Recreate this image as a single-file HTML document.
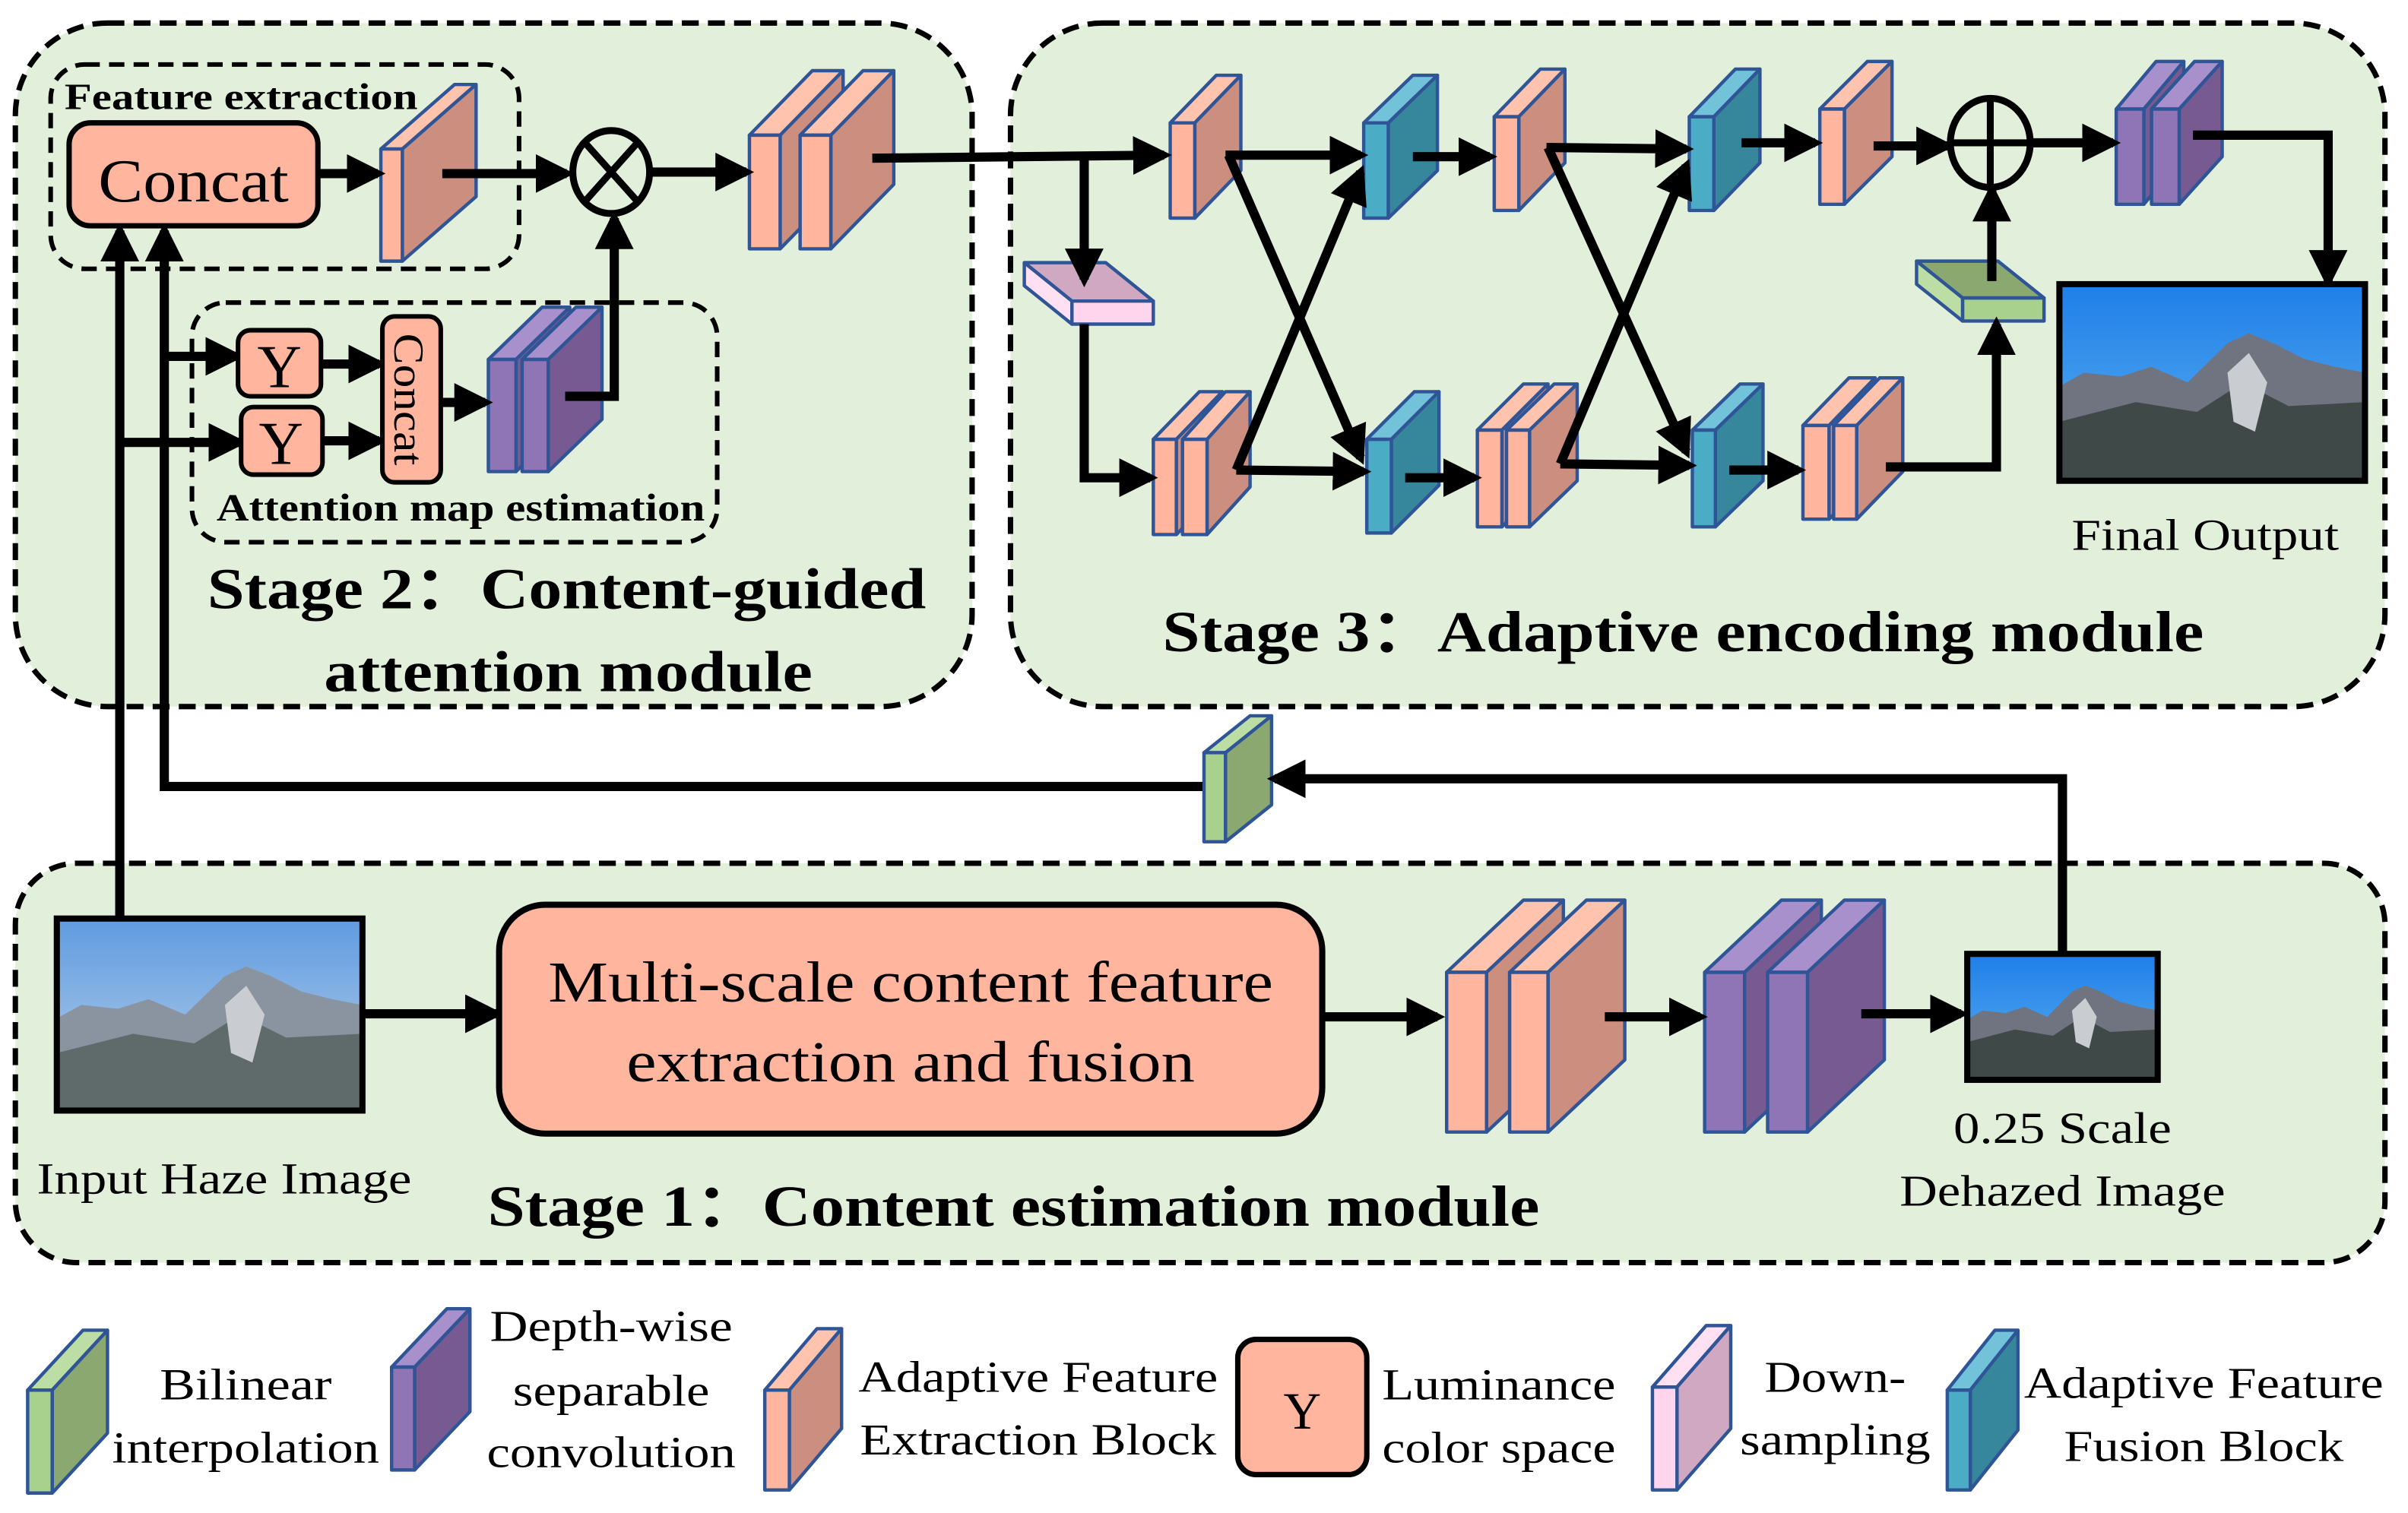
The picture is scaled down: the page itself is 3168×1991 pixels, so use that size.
<!DOCTYPE html>
<html><head><meta charset="utf-8">
<style>
html,body{margin:0;padding:0;background:#fff;}
svg{display:block;}
text{font-family:"Liberation Serif","Times New Roman",serif;fill:#000;}
.b{font-weight:bold;}
</style></head>
<body>
<svg id="s" xmlns="http://www.w3.org/2000/svg" width="3168" height="1991" viewBox="0 0 1568 985" preserveAspectRatio="none" font-family="'Liberation Serif', 'Times New Roman', serif">
<defs>
<marker id="ar" viewBox="0 0 10 10" refX="8" refY="5" markerWidth="4.2" markerHeight="4.2" orient="auto" markerUnits="strokeWidth">
<path d="M0,0 L10,5 L0,10 z" fill="#000"/></marker>
<linearGradient id="sky" x1="0" y1="0" x2="0" y2="1"><stop offset="0" stop-color="#5f9be0"/><stop offset="1" stop-color="#bcd3ea"/></linearGradient>
<linearGradient id="sky2" x1="0" y1="0" x2="0" y2="1"><stop offset="0" stop-color="#1f7fe8"/><stop offset="1" stop-color="#5cb0f0"/></linearGradient>
</defs>
<g fill="#E2EFDA" stroke="#000" stroke-width="3.5" stroke-dasharray="11,6">
<rect x="10" y="15" width="623" height="445" rx="60"/>
<rect x="658" y="15" width="895" height="445" rx="60"/>
<rect x="10" y="562" width="1543" height="260" rx="40"/>
</g>
<g fill="none" stroke="#000" stroke-width="3" stroke-dasharray="10,6">
<rect x="33" y="42" width="305" height="133" rx="22"/>
<rect x="125" y="197" width="342" height="156" rx="22"/>
</g>
<g id="blocks"></g>
<g stroke="#000" stroke-width="6" fill="none" marker-end="url(#ar)">
<line x1="207" y1="113" x2="246" y2="113"/>
<line x1="288" y1="113" x2="369" y2="113"/>
<line x1="425" y1="112" x2="486" y2="112"/>
<polyline points="78,598 78,150"/>
<polyline points="1343,620 1343,507 830,507"/>
<polyline points="783,512 107,512 107,150"/>
<polyline points="107,232 154,232"/>
<polyline points="78,288 156,288"/>
<line x1="209" y1="237" x2="247" y2="237"/>
<line x1="210" y1="287" x2="247" y2="287"/>
<line x1="287" y1="262" x2="316" y2="262"/>
<polyline points="368,258 400,258 400,142"/>
<polyline points="568,103 758,101"/>
<polyline points="706,102 706,182"/>
<polyline points="706,211 706,311 749,311"/>
<line x1="798" y1="101" x2="886" y2="101"/>
<line x1="920" y1="102" x2="970" y2="102"/>
<line x1="1007" y1="96" x2="1098" y2="97"/>
<line x1="1134" y1="93" x2="1182" y2="93"/>
<line x1="1220" y1="95" x2="1268" y2="95"/>
<line x1="1323" y1="93" x2="1376" y2="93"/>
<polyline points="1428,88 1516,88 1516,183"/>
<line x1="805" y1="306" x2="888" y2="307"/>
<line x1="915" y1="311" x2="960" y2="311"/>
<line x1="1016" y1="302" x2="1100" y2="303"/>
<line x1="1126" y1="306" x2="1171" y2="306"/>
<polyline points="1228,304 1300,304 1300,211"/>
<line x1="1297" y1="183" x2="1297" y2="124"/>
<line x1="800" y1="101" x2="886" y2="298"/>
<line x1="805" y1="306" x2="886" y2="112"/>
<line x1="1008" y1="96" x2="1098" y2="294"/>
<line x1="1016" y1="302" x2="1098" y2="108"/>
<line x1="236" y1="660" x2="323" y2="660"/>
<line x1="861" y1="662" x2="936" y2="662"/>
<line x1="1045" y1="662" x2="1107" y2="662"/>
<line x1="1212" y1="660" x2="1277" y2="660"/>
</g>
<rect x="45" y="80" width="162" height="67" rx="14" fill="#FFB59E" stroke="#000" stroke-width="3.5"/>
<text x="126" y="131" font-size="40" text-anchor="middle" textLength="124" lengthAdjust="spacingAndGlyphs">Concat</text>
<text x="157" y="71" font-size="24" class="b" text-anchor="middle" textLength="230" lengthAdjust="spacingAndGlyphs">Feature extraction</text>
<rect x="155" y="215" width="54" height="43" rx="8" fill="#FFB59E" stroke="#000" stroke-width="3"/>
<text x="182" y="252" font-size="40" text-anchor="middle">Y</text>
<rect x="157" y="265" width="53" height="44" rx="8" fill="#FFB59E" stroke="#000" stroke-width="3"/>
<text x="183" y="302" font-size="40" text-anchor="middle">Y</text>
<rect x="249" y="206" width="38" height="108" rx="8" fill="#FFB59E" stroke="#000" stroke-width="3"/>
<text transform="translate(257,260) rotate(90)" font-size="28" text-anchor="middle" textLength="86" lengthAdjust="spacingAndGlyphs">Concat</text>
<text x="300" y="339" font-size="25" class="b" text-anchor="middle" textLength="318" lengthAdjust="spacingAndGlyphs">Attention map estimation</text>
<ellipse cx="398" cy="112" rx="25" ry="27" fill="none" stroke="#000" stroke-width="4.5"/>
<path d="M381,93 L415,131 M415,93 L381,131" stroke="#000" stroke-width="4.5"/>
<ellipse cx="1296" cy="93" rx="26" ry="29" fill="none" stroke="#000" stroke-width="4.5"/>
<path d="M1270,93 L1322,93 M1296,64 L1296,122" stroke="#000" stroke-width="4.5"/>
<text x="369" y="396" font-size="38" class="b" text-anchor="middle" textLength="468" lengthAdjust="spacingAndGlyphs">Stage 2：Content-guided</text>
<text x="370" y="450" font-size="38" class="b" text-anchor="middle" textLength="318" lengthAdjust="spacingAndGlyphs">attention module</text>
<text x="1096" y="424" font-size="38" class="b" text-anchor="middle" textLength="678" lengthAdjust="spacingAndGlyphs">Stage 3：Adaptive encoding module</text>
<text x="660" y="798" font-size="38" class="b" text-anchor="middle" textLength="685" lengthAdjust="spacingAndGlyphs">Stage 1：Content estimation module</text>
<g id="imgs"></g>
<g font-size="29" text-anchor="middle" lengthAdjust="spacingAndGlyphs">
<text x="1436" y="358" textLength="174" lengthAdjust="spacingAndGlyphs">Final Output</text>
<text x="146" y="777" textLength="244" lengthAdjust="spacingAndGlyphs">Input Haze Image</text>
<text x="1343" y="744" textLength="142" lengthAdjust="spacingAndGlyphs">0.25 Scale</text>
<text x="1343" y="785" textLength="212" lengthAdjust="spacingAndGlyphs">Dehazed Image</text>
</g>
<rect x="325" y="589" width="536" height="149" rx="30" fill="#FFB59E" stroke="#000" stroke-width="4"/>
<text x="593" y="652" font-size="38" text-anchor="middle" textLength="472" lengthAdjust="spacingAndGlyphs">Multi-scale content feature</text>
<text x="593" y="704" font-size="38" text-anchor="middle" textLength="370" lengthAdjust="spacingAndGlyphs">extraction and fusion</text>
<rect x="806" y="872" width="84" height="88" rx="12" fill="#FFB59E" stroke="#000" stroke-width="3.5"/>
<text x="848" y="930" font-size="34" text-anchor="middle">Y</text>
<g font-size="29" text-anchor="middle">
<text x="160" y="911" textLength="112" lengthAdjust="spacingAndGlyphs">Bilinear</text><text x="160" y="952" textLength="174" lengthAdjust="spacingAndGlyphs">interpolation</text>
<text x="398" y="873" textLength="158" lengthAdjust="spacingAndGlyphs">Depth-wise</text><text x="398" y="915" textLength="128" lengthAdjust="spacingAndGlyphs">separable</text><text x="398" y="955" textLength="162" lengthAdjust="spacingAndGlyphs">convolution</text>
<text x="676" y="906" textLength="234" lengthAdjust="spacingAndGlyphs">Adaptive Feature</text><text x="676" y="947" textLength="232" lengthAdjust="spacingAndGlyphs">Extraction Block</text>
<text x="976" y="911" textLength="152" lengthAdjust="spacingAndGlyphs">Luminance</text><text x="976" y="952" textLength="152" lengthAdjust="spacingAndGlyphs">color space</text>
<text x="1195" y="906" textLength="92" lengthAdjust="spacingAndGlyphs">Down-</text><text x="1195" y="947" textLength="124" lengthAdjust="spacingAndGlyphs">sampling</text>
<text x="1435" y="910" textLength="234" lengthAdjust="spacingAndGlyphs">Adaptive Feature</text><text x="1435" y="951" textLength="182" lengthAdjust="spacingAndGlyphs">Fusion Block</text>
</g>
</svg>
<script>
var NS="http://www.w3.org/2000/svg";
var C={o:["#FFB59E","#FFC3AE","#CC8F7F"],t:["#4BACC6","#72C3DA","#36879B"],p:["#8F75B5","#A790CC","#775A92"],g:["#A9D18E","#BCDDA4","#8AA870"],k:["#FFD5EE","#FFE0F2","#D0A8C2"]};
var G=document.getElementById("blocks");
function poly(pts,f){var e=document.createElementNS(NS,"polygon");e.setAttribute("points",pts.map(function(p){return p.join(",")}).join(" "));e.setAttribute("fill",f);e.setAttribute("stroke","#2F5597");e.setAttribute("stroke-width","2.2");e.setAttribute("stroke-linejoin","round");G.appendChild(e);}
function blk(x,y,w,h,dx,dy,c){var k=C[c];
 if(dx>=0){
 poly([[x,y],[x+dx,y-dy],[x+w+dx,y-dy],[x+w,y]],k[1]);
 poly([[x+w,y],[x+w+dx,y-dy],[x+w+dx,y+h-dy],[x+w,y+h]],k[2]);
 } else {
 poly([[x,y],[x+dx,y-dy],[x+w+dx,y-dy],[x+w,y]],k[2]);
 poly([[x,y],[x+dx,y-dy],[x+dx,y+h-dy],[x,y+h]],k[1]);
 }
 poly([[x,y],[x+w,y],[x+w,y+h],[x,y+h]],k[0]);}
blk(248,97,14,73,48,42,"o");
blk(488,88,20,74,41,42,"o");blk(521,88,20,74,41,42,"o");
blk(318,234,18,73,35,34,"p");blk(340,234,17,73,35,34,"p");
blk(762,80,16,62,30,31,"o");
blk(888,80,16,62,32,31,"t");
blk(973,76,16,61,30,31,"o");
blk(1100,76,16,61,30,31,"t");
blk(1185,71,16,62,31,31,"o");
blk(1378,71,18,62,26,31,"p");blk(1401,71,18,62,28,31,"p");
blk(751,286,15,62,30,31,"o");blk(770,286,16,62,28,31,"o");
blk(890,286,16,61,31,31,"t");
blk(962,280,16,63,30,30,"o");blk(981,280,15,63,31,30,"o");
blk(1102,280,15,63,31,30,"t");
blk(1174,277,17,61,30,31,"o");blk(1194,277,15,61,30,31,"o");
blk(698,196,53,15,-31,25,"k");
blk(1278,194,53,15,-30,24,"g");
blk(784,490,14,58,30,24,"g");
blk(942,633,26,104,50,47,"o");blk(983,633,25,104,50,47,"o");
blk(1110,633,26,104,50,47,"p");blk(1151,633,26,104,50,47,"p");
blk(18,905,16,67,36,39,"g");
blk(255,890,15,67,36,38,"p");
blk(498,905,16,65,34,40,"o");
blk(1076,903,16,67,35,40,"k");
blk(1268,905,15,65,31,39,"t");
var I=document.getElementById("imgs");
function img(x,y,w,h,sky){
 var s='<rect x="'+x+'" y="'+y+'" width="'+w+'" height="'+h+'" fill="url(#'+sky+')"/>';
 function P(a){return a.map(function(p){return (x+p[0]*w)+","+(y+p[1]*h)}).join(" ")}
 s+='<polygon points="'+P([[0,0.52],[0.08,0.45],[0.2,0.47],[0.3,0.42],[0.42,0.5],[0.55,0.3],[0.62,0.25],[0.7,0.3],[0.8,0.38],[0.9,0.42],[1,0.45],[1,1],[0,1]])+'" fill="'+(sky=="sky"?"#8a93a0":"#6f7480")+'"/>';
 s+='<polygon points="'+P([[0,0.7],[0.25,0.6],[0.45,0.65],[0.6,0.5],[0.75,0.62],[1,0.6],[1,1],[0,1]])+'" fill="'+(sky=="sky"?"#5e6b6a":"#3f4a48")+'"/>';
 s+='<polygon points="'+P([[0.55,0.45],[0.62,0.35],[0.68,0.5],[0.64,0.75],[0.57,0.7]])+'" fill="#c9ccd0"/>';
 s+='<rect x="'+x+'" y="'+y+'" width="'+w+'" height="'+h+'" fill="none" stroke="#000" stroke-width="4"/>';
 return s;}
I.innerHTML=img(37,598,199,125,"sky")+img(1341,185,199,128,"sky2")+img(1281,621,124,82,"sky2");
</script>
</body></html>
